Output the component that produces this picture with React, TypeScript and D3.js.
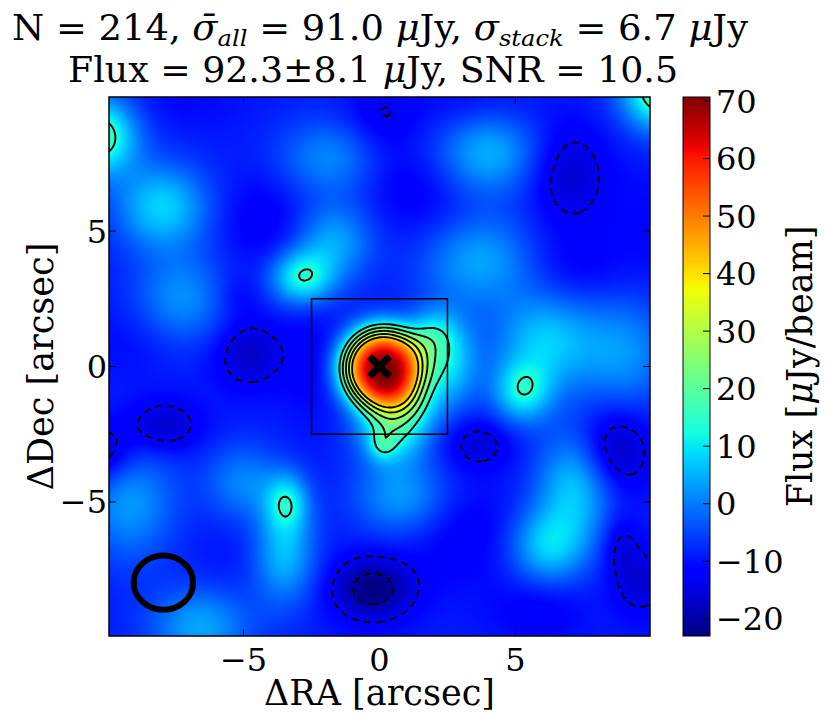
import { useEffect, useRef } from 'react';
import * as d3 from 'd3';

// map extent in arcsec (both axes) and tick values
const extent = [-9.95, 9.95];
const axisTicks = [-5, 0, 5];
const cbarTicks = [-20, -10, 0, 10, 20, 30, 40, 50, 60, 70];
const fluxRange = [-23, 70.7];
const sigmaStack = 6.7;
const contourSigmas = [-3, -2, 2, 3, 4, 5, 6];
const background = -9;
const cutoutHalf = 2.5;
const beamCenter = [-7.95, -7.98];
const beamAxes = [1.09, 1.0];

// blobs: offset (arcsec), peak (uJy/beam), widths, profile power
const blobX = [0.12, 2.45, 1.9, 0.5, 0.1, 1.3, -2.85, 5.25, 6.1, 7.2, 6.2, -3.4, -3.5, -8.0, -10.4, 10.4, 4.0, 3.7, -1.7, -9.2, -6.6, 0.8, -7.3, -1.9, -5.0, 9.0,
  -4.8, -5.2, -4.2, -7.95, -10.3, -8.9, 3.6, 6.95, 8.65, 8.85, 9.6, -0.26, 0.05, 7.0, 1.8, 3.4, 3.1, 5.9, 9.9, -2.6, -7.2, -5.4, 0.5];
const blobY = [-0.05, 0.15, 1.2, -2.2, -2.9, -1.4, 3.27, -0.95, 0.9, -4.45, -6.65, -5.0, -6.9, 5.9, 8.5, 10.2, 7.9, 3.9, 4.6, -5.0, -9.6, -4.8, 2.5, 7.7, -4.3, 0.5,
  0.45, 2.6, 5.4, -2.2, -3.25, 1.0, -2.85, 7.07, -3.1, -6.6, -8.0, -8.2, 9.25, 3.6, 6.1, 9.6, -6.2, -8.9, 5.3, 0.3, 9.8, -6.6, 7.0];
const blobAmp = [78, 18.5, 11.5, 24, 9, 8, 21, 18, 16, 16, 16, 16.3, 15, 17, 28, 30, 14, 13, 13, 12, 13, 12, 11, 10, 10, 11,
  -8.5, -3, -4, -8.5, -10.5, -2, -7, -7.8, -11, -6, -7, -14, -4.9, -4, -3, -3, -4, -4, -2, -3, -2, -1, -2];
const blobSx = [1.16, 0.8, 0.6, 0.9, 0.35, 0.6, 0.8, 0.75, 1.3, 1.0, 1.0, 0.55, 0.8, 1.2, 1.0, 1.0, 1.3, 1.5, 1.0, 1.2, 1.3, 1.2, 1.2, 1.3, 1.0, 1.2,
  0.9, 0.6, 1.2, 0.95, 0.9, 1.2, 0.9, 1.03, 0.9, 0.5, 0.7, 1.05, 0.9, 1.5, 1.2, 1.5, 1.5, 1.2, 1.0, 0.7, 1.5, 1.2, 1.0];
const blobSy = [1.16, 1.2, 0.6, 0.9, 0.4, 0.6, 0.7, 0.8, 1.3, 1.4, 1.0, 0.75, 1.3, 1.1, 1.0, 1.0, 1.1, 1.2, 1.0, 1.5, 1.0, 1.0, 1.2, 1.0, 1.0, 1.5,
  0.9, 0.6, 1.2, 0.7, 0.8, 1.0, 0.68, 1.33, 1.1, 0.8, 0.9, 0.82, 0.9, 1.0, 1.2, 0.8, 1.3, 0.9, 1.5, 1.6, 0.8, 1.2, 1.0];
const blobPow = blobX.map((_, i) => (i === 0 ? 2.8 : 2));

const W = 831;
const H = 717;
const FONT = '"DejaVu Serif", serif';
const TICK_FS = 32;
const LABEL_FS = 35;

function flux(x: number, y: number) {
  let v = background;
  for (let k = 0; k < blobX.length; k++) {
    const dx = (x - blobX[k]) / blobSx[k];
    const dy = (y - blobY[k]) / blobSy[k];
    const r2 = dx * dx + dy * dy;
    v += blobAmp[k] * Math.exp(-0.5 * Math.pow(r2, blobPow[k] / 2));
  }
  return v;
}

// matplotlib "jet"
const jetR = d3.scaleLinear([0, 0.35, 0.66, 0.89, 1], [0, 0, 1, 1, 0.5]).clamp(true);
const jetG = d3.scaleLinear([0, 0.125, 0.375, 0.64, 0.91, 1], [0, 0, 1, 1, 0, 0]).clamp(true);
const jetB = d3.scaleLinear([0, 0.11, 0.34, 0.65, 1], [0.5, 1, 1, 0, 0]).clamp(true);

export default function App() {
  const svgRef = useRef<SVGSVGElement>(null);

  useEffect(() => {
    document.body.style.margin = '0';
    if (!svgRef.current) return;
    const svg = d3.select(svgRef.current);
    svg.selectAll('*').remove();

    const x = d3.scaleLinear(extent, [109, 650]);
    const y = d3.scaleLinear(extent, [636, 97]);
    const norm = d3.scaleLinear(fluxRange, [0, 1]).clamp(true);

    svg.append('rect').attr('width', W).attr('height', H).attr('fill', '#fff');

    const defs = svg.append('defs');
    defs.append('clipPath').attr('id', 'plotclip')
      .append('rect')
      .attr('x', x(extent[0])).attr('y', y(extent[1]))
      .attr('width', x(extent[1]) - x(extent[0]))
      .attr('height', y(extent[0]) - y(extent[1]));

    // heat map image
    const nImg = 540;
    const canvas = document.createElement('canvas');
    canvas.width = nImg;
    canvas.height = nImg;
    const ctx = canvas.getContext('2d')!;
    const img = ctx.createImageData(nImg, nImg);
    const span = extent[1] - extent[0];
    for (let j = 0; j < nImg; j++) {
      const yy = extent[1] - ((j + 0.5) / nImg) * span;
      for (let i = 0; i < nImg; i++) {
        const xx = extent[0] + ((i + 0.5) / nImg) * span;
        const t = norm(flux(xx, yy));
        const o = (j * nImg + i) * 4;
        img.data[o] = Math.round(jetR(t) * 255);
        img.data[o + 1] = Math.round(jetG(t) * 255);
        img.data[o + 2] = Math.round(jetB(t) * 255);
        img.data[o + 3] = 255;
      }
    }
    ctx.putImageData(img, 0, 0);
    svg.append('image')
      .attr('href', canvas.toDataURL())
      .attr('x', x(extent[0])).attr('y', y(extent[1]))
      .attr('width', x(extent[1]) - x(extent[0]))
      .attr('height', y(extent[0]) - y(extent[1]))
      .attr('preserveAspectRatio', 'none');

    // contours on a padded grid so edge rings fall outside the clip
    const pad = 0.7;
    const g0 = extent[0] - pad;
    const g1 = extent[1] + pad;
    const n = 320;
    const step = (g1 - g0) / n;
    const values: number[] = new Array(n * n);
    for (let j = 0; j < n; j++) {
      const yy = g1 - (j + 0.5) * step;
      for (let i = 0; i < n; i++) values[j * n + i] = flux(g0 + (i + 0.5) * step, yy);
    }
    const levels = contourSigmas.map(s => s * sigmaStack);
    const proj = d3.geoTransform({
      point(px: number, py: number) {
        this.stream.point(x(g0 + px * step), y(g1 - py * step));
      }
    });
    const path = d3.geoPath(proj);
    const cont = d3.contours().size([n, n]).thresholds(levels)(values);
    svg.append('g').attr('clip-path', 'url(#plotclip)')
      .selectAll('path')
      .data(cont)
      .join('path')
      .attr('d', d => path(d as any))
      .attr('fill', 'none')
      .attr('stroke', '#000')
      .attr('stroke-width', 1.9)
      .attr('stroke-dasharray', d => (d.value < 0 ? '7,5' : null));

    // cutout box, centre marker, beam
    svg.append('rect')
      .attr('x', x(-cutoutHalf)).attr('y', y(cutoutHalf))
      .attr('width', x(cutoutHalf) - x(-cutoutHalf))
      .attr('height', y(-cutoutHalf) - y(cutoutHalf))
      .attr('fill', 'none').attr('stroke', '#000').attr('stroke-width', 1.5);

    const cx = x(0), cy = y(0), m = 10;
    svg.append('path')
      .attr('d', `M${cx - m},${cy - m}L${cx + m},${cy + m}M${cx - m},${cy + m}L${cx + m},${cy - m}`)
      .attr('stroke', '#000').attr('stroke-width', 7);

    svg.append('ellipse')
      .attr('cx', x(beamCenter[0])).attr('cy', y(beamCenter[1]))
      .attr('rx', x(beamAxes[0]) - x(0)).attr('ry', y(0) - y(beamAxes[1]))
      .attr('fill', 'none').attr('stroke', '#000').attr('stroke-width', 6);

    // frame and ticks
    svg.append('rect')
      .attr('x', x(extent[0])).attr('y', y(extent[1]))
      .attr('width', x(extent[1]) - x(extent[0]))
      .attr('height', y(extent[0]) - y(extent[1]))
      .attr('fill', 'none').attr('stroke', '#000').attr('stroke-width', 1.5);

    const tk = 7;
    const tg = svg.append('g').attr('stroke', '#000').attr('stroke-width', 1);
    axisTicks.forEach(v => {
      tg.append('line').attr('x1', x(v)).attr('x2', x(v)).attr('y1', y(extent[0])).attr('y2', y(extent[0]) - tk);
      tg.append('line').attr('x1', x(v)).attr('x2', x(v)).attr('y1', y(extent[1])).attr('y2', y(extent[1]) + tk);
      tg.append('line').attr('y1', y(v)).attr('y2', y(v)).attr('x1', x(extent[0])).attr('x2', x(extent[0]) + tk);
      tg.append('line').attr('y1', y(v)).attr('y2', y(v)).attr('x1', x(extent[1])).attr('x2', x(extent[1]) - tk);
    });
    const fmt = d3.format('d');
    const lab = svg.append('g').attr('font-family', FONT).attr('font-size', TICK_FS).attr('fill', '#000');
    axisTicks.forEach(v => {
      lab.append('text').attr('x', x(v)).attr('y', 671).attr('text-anchor', 'middle').text(fmt(v));
      lab.append('text').attr('x', 107).attr('y', y(v)).attr('dy', '0.36em').attr('text-anchor', 'end').text(fmt(v));
    });
    lab.append('text').attr('x', x(0)).attr('y', 705).attr('font-size', LABEL_FS)
      .attr('text-anchor', 'middle').text('ΔRA [arcsec]');
    lab.append('text').attr('transform', `translate(53,${y(0)}) rotate(-90)`).attr('font-size', LABEL_FS)
      .attr('text-anchor', 'middle').text('ΔDec [arcsec]');

    // colour bar
    const cb = d3.scaleLinear(fluxRange, [636, 97]);
    const grad = defs.append('linearGradient').attr('id', 'jet')
      .attr('x1', 0).attr('y1', 1).attr('x2', 0).attr('y2', 0);
    d3.range(0, 1.0001, 0.01).forEach(t => {
      grad.append('stop').attr('offset', t)
        .attr('stop-color', d3.rgb(jetR(t) * 255, jetG(t) * 255, jetB(t) * 255).formatHex());
    });
    const cbx0 = 683, cbx1 = 710;
    svg.append('rect').attr('x', cbx0).attr('y', cb(fluxRange[1]))
      .attr('width', cbx1 - cbx0).attr('height', cb(fluxRange[0]) - cb(fluxRange[1]))
      .attr('fill', 'url(#jet)').attr('stroke', '#000').attr('stroke-width', 1);
    cbarTicks.forEach(v => {
      svg.append('line').attr('x1', cbx1 - tk).attr('x2', cbx1).attr('y1', cb(v)).attr('y2', cb(v))
        .attr('stroke', '#000').attr('stroke-width', 1);
      lab.append('text').attr('x', 716).attr('y', cb(v)).attr('dy', '0.36em').text(fmt(v));
    });
    const cbl = lab.append('text').attr('transform', `translate(812,${y(0)}) rotate(-90)`)
      .attr('font-size', LABEL_FS).attr('text-anchor', 'middle').style('white-space', 'pre');
    cbl.append('tspan').text('Flux [');
    cbl.append('tspan').attr('font-style', 'italic').text('μ');
    cbl.append('tspan').text('Jy/beam]');

    // title
    const title = svg.append('g').attr('font-family', FONT).attr('font-size', 35).attr('fill', '#000')
      .attr('text-anchor', 'middle').style('white-space', 'pre');
    const t1 = title.append('text').attr('x', 380).attr('y', 40)
      .attr('textLength', 736).attr('lengthAdjust', 'spacingAndGlyphs');
    t1.append('tspan').text('N = 214, ');
    t1.append('tspan').attr('font-style', 'italic').text('σ\u0304');
    t1.append('tspan').attr('font-style', 'italic').attr('font-size', 23).attr('dy', 6).text('all');
    t1.append('tspan').attr('dy', -6).text(' = 91.0 ');
    t1.append('tspan').attr('font-style', 'italic').text('μ');
    t1.append('tspan').text('Jy, ');
    t1.append('tspan').attr('font-style', 'italic').text('σ');
    t1.append('tspan').attr('font-style', 'italic').attr('font-size', 23).attr('dy', 6).text('stack');
    t1.append('tspan').attr('dy', -6).text(' = 6.7 ');
    t1.append('tspan').attr('font-style', 'italic').text('μ');
    t1.append('tspan').text('Jy');
    const t2 = title.append('text').attr('x', 373).attr('y', 82)
      .attr('textLength', 610).attr('lengthAdjust', 'spacingAndGlyphs');
    t2.append('tspan').text('Flux = 92.3±8.1 ');
    t2.append('tspan').attr('font-style', 'italic').text('μ');
    t2.append('tspan').text('Jy, SNR = 10.5');
  }, []);

  return <svg ref={svgRef} width={W} height={H} style={{ display: 'block' }} />;
}
